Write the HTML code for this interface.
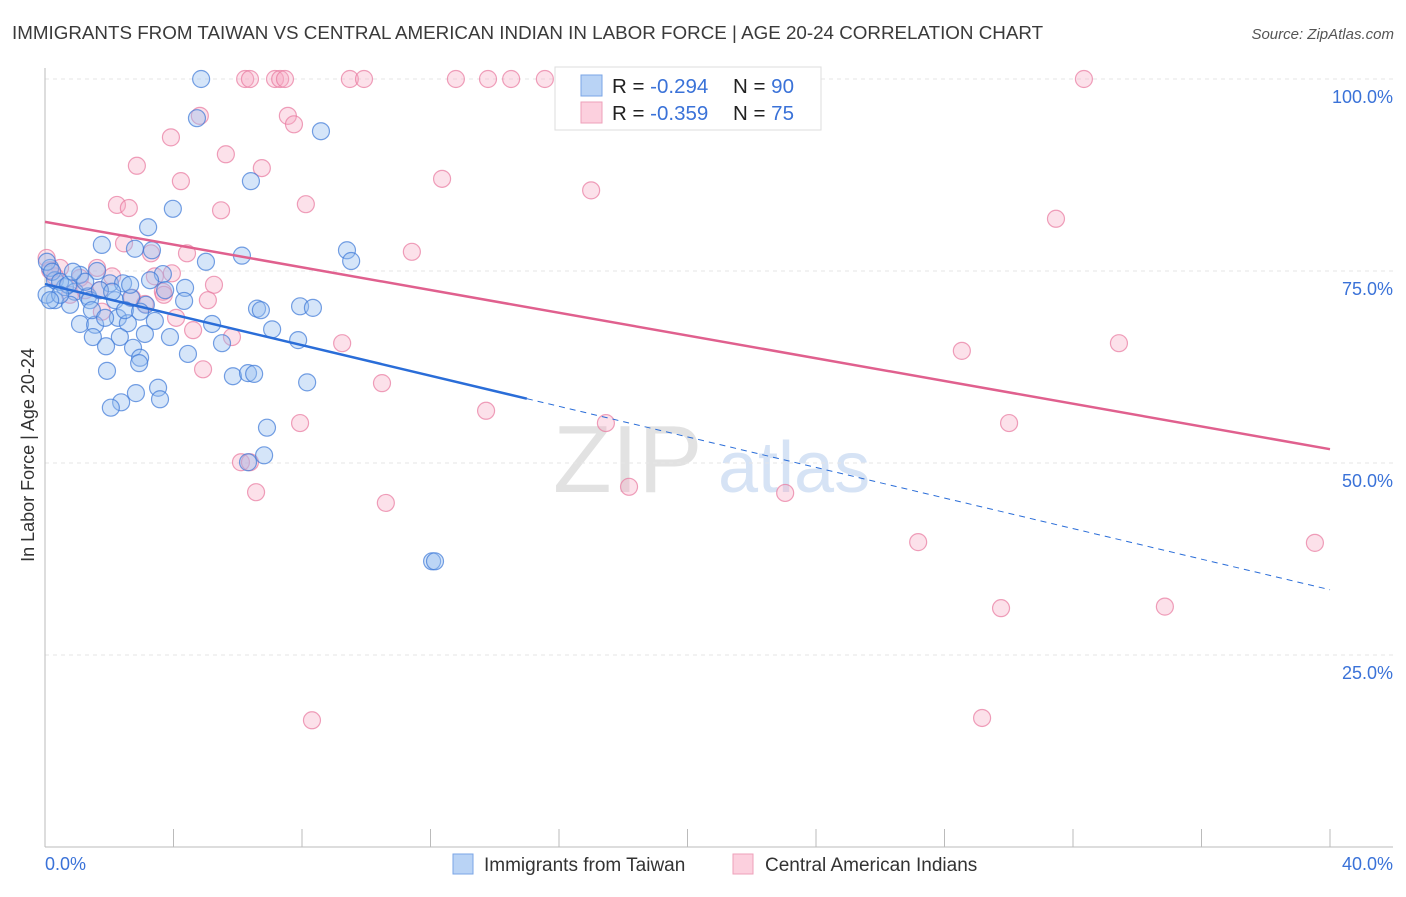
<!DOCTYPE html>
<html><head><meta charset="utf-8"><style>
body{margin:0;background:#fff;font-family:"Liberation Sans",sans-serif}
svg text{font-family:"Liberation Sans",sans-serif}
</style></head><body>
<svg id="chart" width="1406" height="892" viewBox="0 0 1406 892">
<text x="12" y="39" font-size="18.8" fill="#3a3a3a">IMMIGRANTS FROM TAIWAN VS CENTRAL AMERICAN INDIAN IN LABOR FORCE | AGE 20-24 CORRELATION CHART</text>
<text x="1394" y="39" font-size="15" font-style="italic" fill="#555" text-anchor="end">Source: ZipAtlas.com</text>
<text transform="translate(34,455) rotate(-90)" font-size="18" fill="#333" text-anchor="middle">In Labor Force | Age 20-24</text>
<g>
<text x="553" y="492" font-size="96" font-family="Liberation Serif" fill="#e2e2e2">ZIP</text>
<text x="718" y="492" font-size="72" fill="#d6e3f5">atlas</text>
</g>
<g id="grid"></g><g id="axes"></g><g id="pts"></g><g id="lines"></g>
<g>
<rect x="555" y="67" width="266" height="63" fill="#fff" stroke="#ddd"/>
<rect x="581" y="75" width="21" height="21" fill="#b9d3f5" stroke="#7aa5e6"/>
<rect x="581" y="102" width="21" height="21" fill="#fcd0de" stroke="#eea0ba"/>
<text x="612" y="93" font-size="20.5" fill="#222">R = <tspan fill="#3a72d8">-0.294</tspan></text>
<text x="733" y="93" font-size="20.5" fill="#222">N = <tspan fill="#3a72d8">90</tspan></text>
<text x="612" y="120" font-size="20.5" fill="#222">R = <tspan fill="#3a72d8">-0.359</tspan></text>
<text x="733" y="120" font-size="20.5" fill="#222">N = <tspan fill="#3a72d8"> 75</tspan></text>
</g>
<g>
<rect x="453" y="854" width="20" height="20" fill="#b9d3f5" stroke="#7aa5e6"/>
<text x="484" y="871" font-size="19" fill="#333">Immigrants from Taiwan</text>
<rect x="733" y="854" width="20" height="20" fill="#fcd0de" stroke="#eea0ba"/>
<text x="765" y="871" font-size="19" fill="#333">Central American Indians</text>
</g>
</svg>
<script>
const blueX=[4.86,4.73,8.59,6.41,3.98,3.21,1.77,2.80,3.33,6.13,9.40,9.53,5.01,3.67,1.62,0.16,0.31,0.62,0.93,1.34,2.02,2.43,4.36,0.31,0.78,1.40,2.18,2.68,3.14,4.33,6.60,6.72,7.94,8.34,1.09,1.56,2.27,2.58,3.42,5.20,7.07,1.49,2.33,3.11,3.89,7.88,5.51,1.90,2.74,2.96,2.93,4.45,1.93,5.85,6.32,6.51,8.16,3.52,2.83,3.58,2.37,2.05,6.91,6.82,6.32,12.05,12.14,0.06,0.22,0.47,0.72,0.05,1.09,1.71,2.49,2.96,1.46,1.87,1.25,0.87,3.27,3.74,2.09,0.47,2.65,0.16];
const blueY=[100,94.9,93.2,86.7,83.1,80.7,78.4,77.9,77.7,77.0,77.7,76.3,76.2,74.6,75.0,75.4,73.8,72.9,72.3,71.7,73.4,73.4,72.8,71.2,70.6,71.2,71.2,71.5,70.6,71.1,70.1,69.9,70.4,70.2,68.1,68.0,68.9,68.2,68.5,68.1,67.4,66.4,66.4,66.8,66.4,66.0,65.6,65.2,65.0,63.7,63.0,64.2,62.0,61.3,61.7,61.6,60.5,59.8,59.1,58.3,57.9,57.2,54.6,51.0,50.1,37.2,37.2,76.2,74.9,73.6,73.2,71.9,74.5,72.5,69.9,69.7,69.9,68.9,73.6,74.9,73.8,72.5,72.3,71.9,73.2,71.2];
const pinkX=[6.23,6.38,7.16,7.32,7.47,9.49,9.93,12.79,13.79,14.51,15.56,19.02,32.34,4.82,7.56,7.75,3.92,5.63,2.86,6.75,4.23,12.36,17.0,2.24,2.61,5.48,8.12,31.47,2.46,3.30,4.42,11.42,1.62,0.05,0.47,2.09,3.42,3.95,0.31,1.09,1.25,1.71,0.78,2.71,3.11,3.67,3.70,5.26,5.07,4.08,1.77,4.61,5.82,9.25,28.54,33.43,4.92,10.49,13.73,7.94,17.46,30.01,6.10,6.38,6.57,18.18,23.04,10.61,27.18,39.53,29.76,34.86,8.31,29.17,0.16];
const pinkY=[100,100,100,100,100,100,100,100,100,100,100,100,100,95.2,95.2,94.1,92.4,90.2,88.7,88.4,86.7,87.0,85.5,83.6,83.2,82.9,83.7,81.8,78.6,77.3,77.3,77.5,75.4,76.7,75.4,74.3,74.3,74.7,74.3,74.1,72.5,72.5,71.9,71.5,70.7,72.3,71.9,73.2,71.2,68.9,69.7,67.3,66.4,65.6,64.6,65.6,62.2,60.4,56.8,55.2,55.2,55.2,50.1,50.1,46.2,46.9,46.1,44.8,39.7,39.6,31.1,31.3,16.5,16.8,75.1];
const blueTrend=[73.3,33.5], blueSolidEnd=15.0;
const pinkTrend=[81.4,51.8];
const yTicks=[25,50,75,100];
const yTickLabels=["25.0%","50.0%","75.0%","100.0%"];
const xTicks=[0,4,8,12,16,20,24,28,32,36,40];

const NS="http://www.w3.org/2000/svg";
const X=v=>45+v*32.125, Y=v=>847-v*7.68;
function mk(parent,tag,attrs){const e=document.createElementNS(NS,tag);for(const k in attrs)e.setAttribute(k,attrs[k]);document.getElementById(parent).appendChild(e);return e;}
yTicks.forEach((t,i)=>{
  const g=mk('grid','line',{x1:45,x2:1393,y1:Y(t),y2:Y(t),stroke:'#e6e6e6','stroke-dasharray':'4,4'});
  
  
  const l=mk('grid','text',{x:1393,y:Y(t)+24,'font-size':18,fill:'#3a72d8','text-anchor':'end'});
  l.textContent=yTickLabels[i];
  
  
});
const ax=mk('axes','line',{x1:45,x2:1393,y1:847,y2:847,stroke:'#bbb'});


const ay=mk('axes','line',{x1:45,x2:45,y1:68,y2:847,stroke:'#bbb'});


xTicks.forEach(t=>{
  const k=mk('axes','line',{x1:X(t),x2:X(t),y1:829,y2:847,stroke:'#bbb'});
  
  
});
const xl0=mk('axes','text',{x:45,y:870,'font-size':18,fill:'#3a72d8'});xl0.textContent=xTicks[0].toFixed(1)+'%';


const xl1=mk('axes','text',{x:1393,y:870,'font-size':18,fill:'#3a72d8','text-anchor':'end'});xl1.textContent=xTicks[xTicks.length-1].toFixed(1)+'%';


pinkX.forEach((v,i)=>{
  const c=mk('pts','circle',{cx:X(v),cy:Y(pinkY[i]),r:8.5,fill:'rgba(246,170,196,0.35)',stroke:'rgba(232,120,158,0.7)','stroke-width':1.2});
  
  
});
blueX.forEach((v,i)=>{
  const c=mk('pts','circle',{cx:X(v),cy:Y(blueY[i]),r:8.5,fill:'rgba(150,190,240,0.4)',stroke:'rgba(60,120,215,0.7)','stroke-width':1.2});
  
  
});
const bAt=x=>blueTrend[0]+(blueTrend[1]-blueTrend[0])*x/40;
const l1=mk('lines','line',{x1:X(0),y1:Y(bAt(0)),x2:X(blueSolidEnd),y2:Y(bAt(blueSolidEnd)),stroke:'#2a6dd8','stroke-width':2.5});


const l2=mk('lines','line',{x1:X(blueSolidEnd),y1:Y(bAt(blueSolidEnd)),x2:X(40),y2:Y(bAt(40)),stroke:'#2a6dd8','stroke-width':1,'stroke-dasharray':'6,5'});


const l3=mk('lines','line',{x1:X(0),y1:Y(pinkTrend[0]),x2:X(40),y2:Y(pinkTrend[1]),stroke:'#e0608e','stroke-width':2.5});


</script>
</body></html>
